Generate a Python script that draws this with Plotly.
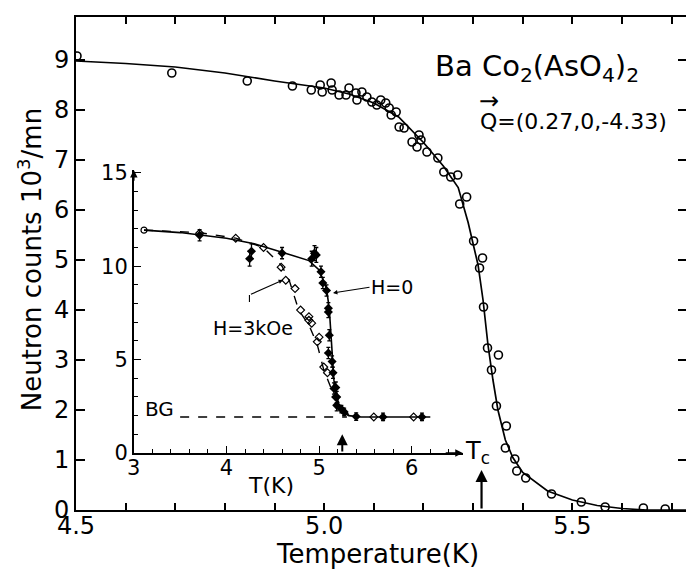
import plotly.graph_objects as go

FONT = "DejaVu Sans"

# ---------------- main data ----------------
main_T = [4.502, 4.693, 4.845, 4.936, 4.974, 4.992, 4.996, 5.014, 5.016, 5.030,
          5.044, 5.050, 5.064, 5.066, 5.076, 5.086, 5.096, 5.106, 5.114, 5.124,
          5.131, 5.135, 5.145, 5.151, 5.161, 5.177, 5.187, 5.191, 5.195, 5.207,
          5.229, 5.241, 5.255, 5.269, 5.273, 5.287, 5.301, 5.313, 5.319, 5.321,
          5.329, 5.351, 5.337, 5.347, 5.367, 5.365, 5.384, 5.388, 5.406, 5.458,
          5.518, 5.566, 5.643, 5.687]
main_N = [9.08, 8.74, 8.58, 8.48, 8.40, 8.50, 8.36, 8.54, 8.40, 8.30,
          8.30, 8.44, 8.34, 8.20, 8.36, 8.26, 8.16, 8.10, 8.20, 8.14,
          8.04, 7.90, 7.96, 7.66, 7.64, 7.36, 7.26, 7.50, 7.40, 7.16,
          7.04, 6.76, 6.66, 6.70, 6.12, 6.26, 5.38, 4.84, 5.04, 4.06,
          3.24, 3.10, 2.80, 2.08, 1.68, 1.24, 1.02, 0.78, 0.64, 0.32,
          0.16, 0.06, 0.04, 0.02]

fit_T = [4.50, 4.60, 4.70, 4.80, 4.90, 5.00, 5.05, 5.10, 5.15, 5.20, 5.24,
         5.27, 5.29, 5.30, 5.31, 5.32, 5.33, 5.34, 5.35, 5.365, 5.38, 5.40,
         5.45, 5.50, 5.55, 5.60, 5.65, 5.73]
fit_N = [8.98, 8.93, 8.86, 8.74, 8.58, 8.44, 8.32, 8.14, 7.86, 7.35, 6.88,
         6.45, 5.75, 5.35, 4.90, 4.20, 3.30, 2.60, 2.00, 1.40, 1.05, 0.75,
         0.38, 0.20, 0.09, 0.03, 0.0, 0.0]

main_xticks = [4.5, 4.6, 4.7, 4.8, 4.9, 5.0, 5.1, 5.2, 5.3, 5.4, 5.5, 5.6, 5.7]
main_xticktext = ["4.5", "", "", "", "", "5.0", "", "", "", "", "5.5", "", ""]
main_yticks = [0, 1, 2, 3, 4, 5, 6, 7, 8, 9]

Tc_main = 5.317

# ---------------- inset data ----------------
h0_T = [3.71, 4.25, 4.27, 4.60, 4.92, 4.95, 4.97, 5.02, 5.04, 5.08, 5.10, 5.10,
        5.11, 5.10, 5.14, 5.15, 5.16, 5.18, 5.19, 5.19, 5.24, 5.27, 5.40, 5.69, 6.11]
h0_N = [11.66, 10.4, 10.8, 10.7, 10.4, 10.7, 10.6, 9.7, 9.1, 8.7, 7.75, 7.55,
        6.3, 5.35, 4.9, 4.3, 3.45, 3.5, 3.0, 2.55, 2.35, 2.2, 1.95, 1.93, 1.93]
h0_err = [0.3, 0.4, 0.4, 0.3, 0.4, 0.4, 0.4, 0.3, 0.3, 0.3, 0.3, 0.3,
          0.3, 0.3, 0.3, 0.3, 0.3, 0.3, 0.3, 0.3, 0.2, 0.2, 0.2, 0.2, 0.2]

h3_T = [3.11, 3.71, 4.10, 4.40, 4.59, 4.64, 4.74, 4.80, 4.89, 4.89, 4.92, 5.00,
        4.98, 5.05, 5.09, 5.18, 5.59, 6.02]
h3_N = [11.93, 11.76, 11.5, 11.0, 9.95, 9.25, 8.8, 7.65, 7.3, 7.1, 6.95, 6.2,
        5.95, 4.6, 4.3, 3.0, 1.93, 1.93]
h3_sym = ["circle-open"] + ["diamond-open"] * 17

h0_curve_T = [3.11, 3.5, 4.0, 4.3, 4.6, 4.89, 5.0, 5.08, 5.11, 5.13, 5.16,
              5.20, 5.25, 5.32, 5.45, 6.2]
h0_curve_N = [11.93, 11.8, 11.5, 11.2, 10.75, 10.3, 9.8, 8.8, 7.7, 6.1, 3.9,
              2.7, 2.2, 2.0, 1.93, 1.93]

h3_curve_T = [3.11, 3.71, 4.10, 4.40, 4.60, 4.68, 4.78, 4.89, 4.98, 5.05,
              5.16, 5.27, 5.32]
h3_curve_N = [11.93, 11.8, 11.5, 11.0, 10.0, 9.2, 7.65, 6.85, 5.8, 4.45,
              3.1, 2.3, 2.05]

bg_T = [3.5, 5.3]
bg_N = [1.93, 1.93]

inset_xticks = [3, 4, 5, 6]
inset_yticks = [0, 5, 10, 15]
Tc_inset = 5.25

fig = go.Figure()

# main
fig.add_trace(go.Scatter(x=fit_T, y=fit_N, mode="lines",
                         line=dict(color="black", width=1.7), showlegend=False))
fig.add_trace(go.Scatter(x=main_T, y=main_N, mode="markers",
                         marker=dict(symbol="circle-open", size=8, color="black",
                                     line=dict(width=1.6, color="black")),
                         showlegend=False))

# inset
fig.add_trace(go.Scatter(x=bg_T, y=bg_N, mode="lines", xaxis="x2", yaxis="y2",
                         line=dict(color="black", width=1.5, dash="dash"), showlegend=False))
fig.add_trace(go.Scatter(x=h3_curve_T, y=h3_curve_N, mode="lines", xaxis="x2", yaxis="y2",
                         line=dict(color="black", width=1.4, dash="dash"), showlegend=False))
fig.add_trace(go.Scatter(x=h0_curve_T, y=h0_curve_N, mode="lines", xaxis="x2", yaxis="y2",
                         line=dict(color="black", width=1.6), showlegend=False))
fig.add_trace(go.Scatter(x=h3_T, y=h3_N, mode="markers", xaxis="x2", yaxis="y2",
                         marker=dict(symbol=h3_sym, size=6, color="black",
                                     line=dict(width=1.2, color="black")),
                         showlegend=False))
fig.add_trace(go.Scatter(x=h0_T, y=h0_N, mode="markers", xaxis="x2", yaxis="y2",
                         error_y=dict(type="data", array=h0_err, color="black",
                                      thickness=1.3, width=2),
                         marker=dict(symbol="diamond", size=7, color="black"),
                         showlegend=False))

L, R, T, B = 76, 0, 17, 59
W, H = 689, 569
pw, ph = W - L - R, H - T - B


def px(xp):
    return (xp - L) / pw


def py(yp):
    return (H - B - yp) / ph


ann = []
# titles
ann.append(dict(text="Temperature(K)", x=px(378), y=py(554), xref="paper", yref="paper",
                showarrow=False, font=dict(size=26, family=FONT), xanchor="center", yanchor="middle"))
ann.append(dict(text="Neutron counts 10<sup>3</sup>/mn", x=px(30), y=py(260), xref="paper",
                yref="paper", textangle=-90, showarrow=False,
                font=dict(size=26, family=FONT), xanchor="center", yanchor="middle"))
ann.append(dict(text="Ba Co<sub>2</sub>(AsO<sub>4</sub>)<sub>2</sub>", x=px(539), y=py(68),
                xref="paper", yref="paper", showarrow=False,
                font=dict(size=29, family=FONT), xanchor="center", yanchor="middle"))
ann.append(dict(text="Q=(0.27,0,-4.33)", x=px(575), y=py(122), xref="paper", yref="paper",
                showarrow=False, font=dict(size=22, family=FONT), xanchor="center", yanchor="middle"))
ann.append(dict(text="→", x=px(490), y=py(101), xref="paper", yref="paper",
                showarrow=False, font=dict(size=24, family=FONT), xanchor="center", yanchor="middle"))
# Tc
ann.append(dict(text="T<sub>c</sub>", x=px(479), y=py(452), xref="paper", yref="paper",
                showarrow=False, font=dict(size=24, family=FONT), xanchor="center", yanchor="middle"))
ann.append(dict(text="", x=Tc_main, y=0.8, ax=Tc_main, ay=0.0, xref="x", yref="y",
                axref="x", ayref="y", showarrow=True, arrowhead=2, arrowsize=1.1,
                arrowwidth=2.2, arrowcolor="black"))
ann.append(dict(text="", x=Tc_inset, y=1.0, ax=Tc_inset, ay=0.0, xref="x2", yref="y2",
                axref="x2", ayref="y2", showarrow=True, arrowhead=2, arrowsize=1.1,
                arrowwidth=2, arrowcolor="black"))
# inset axis arrows
ann.append(dict(text="", x=6.55, y=0, ax=6.35, ay=0, xref="x2", yref="y2",
                axref="x2", ayref="y2", showarrow=True, arrowhead=2, arrowsize=1,
                arrowwidth=1.5, arrowcolor="black"))
ann.append(dict(text="", x=3, y=15.15, ax=3, ay=14.5, xref="x2", yref="y2",
                axref="x2", ayref="y2", showarrow=True, arrowhead=2, arrowsize=1,
                arrowwidth=1.5, arrowcolor="black"))
# inset labels
ann.append(dict(text="T(K)", x=px(272), y=py(485), xref="paper", yref="paper",
                showarrow=False, font=dict(size=22, family=FONT), xanchor="center", yanchor="middle"))
ann.append(dict(text="BG", x=3.28, y=2.36, xref="x2", yref="y2", showarrow=False,
                font=dict(size=20, family=FONT), xanchor="center", yanchor="middle"))
ann.append(dict(text="H=0", x=5.79, y=8.89, xref="x2", yref="y2", showarrow=False,
                font=dict(size=19, family=FONT), xanchor="center", yanchor="middle"))
ann.append(dict(text="", x=5.15, y=8.57, ax=5.56, ay=8.89, xref="x2", yref="y2",
                axref="x2", ayref="y2", showarrow=True, arrowhead=2, arrowsize=0.8,
                arrowwidth=1.1, arrowcolor="black"))
ann.append(dict(text="H=3kOe", x=4.29, y=6.69, xref="x2", yref="y2", showarrow=False,
                font=dict(size=19, family=FONT), xanchor="center", yanchor="middle"))
ann.append(dict(text="", x=4.61, y=9.26, ax=4.248, ay=8.46, xref="x2", yref="y2",
                axref="x2", ayref="y2", showarrow=True, arrowhead=2, arrowsize=0.8,
                arrowwidth=1.1, arrowcolor="black"))

shapes = [dict(type="line", xref="x2", yref="y2", x0=4.248, x1=4.248, y0=8.08, y1=8.46,
               line=dict(color="black", width=1.1))]

fig.update_layout(
    width=W, height=H,
    margin=dict(l=L, r=R, t=T, b=B),
    paper_bgcolor="white", plot_bgcolor="rgba(0,0,0,0)",
    font=dict(family=FONT, color="black"),
    showlegend=False,
    annotations=ann,
    shapes=shapes,
    xaxis=dict(range=[4.5, 4.5 + pw / 498.0], tickvals=main_xticks, ticktext=main_xticktext,
               ticks="inside", ticklen=7, tickwidth=1.5, tickcolor="black",
               showline=True, linewidth=2, linecolor="black", mirror="ticks",
               showgrid=False, zeroline=False, tickfont=dict(size=24, family=FONT),
               ticklabelstandoff=-7),
    yaxis=dict(range=[0, ph / 50.0], tickvals=main_yticks,
               ticks="inside", ticklen=9, tickwidth=1.5, tickcolor="black",
               showline=True, linewidth=2, linecolor="black", mirror="ticks",
               showgrid=False, zeroline=False, tickfont=dict(size=24, family=FONT)),
    xaxis2=dict(domain=[px(134), px(464)], anchor="y2", range=[3, 6.55],
                tickvals=inset_xticks, ticks="inside", ticklen=7, tickwidth=1.4,
                tickcolor="black", showline=True, linewidth=1.6, linecolor="black",
                showgrid=False, zeroline=False, tickfont=dict(size=21, family=FONT),
                ticklabelstandoff=-5,
                minor=dict(dtick=0.2, tick0=3, ticks="inside", ticklen=4, tickcolor="black",
                           tickwidth=1.2, showgrid=False)),
    yaxis2=dict(domain=[py(453), py(170)], anchor="x2", range=[0, 15.15],
                tickvals=inset_yticks, ticks="inside", ticklen=7, tickwidth=1.4,
                tickcolor="black", showline=True, linewidth=1.6, linecolor="black",
                showgrid=False, zeroline=False, tickfont=dict(size=21, family=FONT),
                minor=dict(dtick=1, tick0=0, ticks="inside", ticklen=4, tickcolor="black",
                           tickwidth=1.2, showgrid=False)),
)

fig.write_html("out.html", config={"displayModeBar": False},
               post_script="document.body.style.margin='0';document.body.style.overflow='hidden';")
